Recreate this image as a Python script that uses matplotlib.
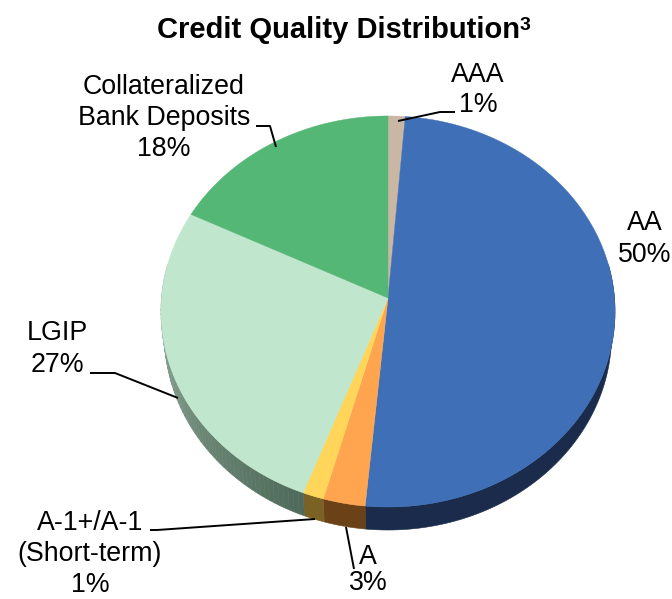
import numpy as np
import matplotlib
matplotlib.use("Agg")
import matplotlib.pyplot as plt

plt.rcParams["font.family"] = ["Liberation Sans", "DejaVu Sans"]

# slice order runs clockwise from 12 o'clock
categories = ["AAA", "AA", "A", "A-1+/A-1\n(Short-term)", "LGIP", "Collateralized\nBank Deposits"]
printed_pct = ["1%", "50%", "3%", "1%", "27%", "18%"]
# shares as drawn (the printed labels are rounded differently)
shares = [1.3, 50.2, 2.8, 1.4, 26.6, 17.7]
top_colors = ["#c9b6a3", "#3f6fb6", "#ffa550", "#ffd65a", "#c0e6cd", "#55b775"]
wall_dark = ["#6b5d50", "#1a2b4c", "#6b4218", "#7a6124", "#4e6a5a", "#2b5f3c"]
wall_light = ["#6b5d50", "#1a2b4c", "#6b4218", "#7a6124", "#9ab3a0", "#2b5f3c"]

# pie placement, pixels
cx, cy = 388, 298
rx, ry = 226.5, 194.6
persp = 0.069
depth = 23


def project(theta):
    # theta in radians clockwise from the top, tilted pie with a little perspective
    u = np.sin(theta)
    v = np.cos(theta)
    w = 1 + persp * v
    return cx + rx * u / w, cy - ry * v / w


def project_low(theta):
    x, y = project(theta)
    return cx + (x - cx) * 0.985, y + depth


fig = plt.figure(figsize=(6.72, 5.99), dpi=100)
ax = fig.add_axes([0, 0, 1, 1])
ax.set_xlim(0, 672)
ax.set_ylim(599, 0)
ax.axis("off")

edges = np.radians(np.cumsum([0] + shares) * 3.6)

# side wall first, the top face goes over it
for i in range(len(shares)):
    t0 = max(edges[i], np.radians(80))
    t1 = min(edges[i + 1], np.radians(280))
    if t1 <= t0:
        continue
    c0 = np.array(matplotlib.colors.to_rgb(wall_dark[i]))
    c1 = np.array(matplotlib.colors.to_rgb(wall_light[i]))
    # only the LGIP wall changes colour along the rim
    steps = 60 if wall_dark[i] != wall_light[i] else 1
    ts = np.linspace(t0, t1, steps + 1)
    for j in range(steps):
        a = np.linspace(ts[j], ts[j + 1], 80 // steps + 2)
        xt, yt = project(a)
        xb, yb = project_low(a[::-1])
        f = j / steps
        col = c0 + (c1 - c0) * f
        ax.fill(np.r_[xt, xb], np.r_[yt, yb], color=col, lw=0.4, ec=col, zorder=1)

# top face
for i in range(len(shares)):
    t = np.linspace(edges[i], edges[i + 1], 120)
    x, y = project(t)
    ax.fill(np.r_[cx, x], np.r_[cy, y], color=top_colors[i], lw=0.3, ec=top_colors[i], zorder=2)

# leader lines
leaders = [
    ([398, 440, 455], [121, 112, 112]),
    ([276, 270, 256], [147, 126, 126]),
    ([90, 115, 178], [373, 373, 398]),
    ([315, 157, 150], [519, 530, 530]),
    ([346, 354], [527, 569]),
]
for xs, ys in leaders:
    ax.plot(xs, ys, color="black", lw=1.4, zorder=3, solid_capstyle="butt")

fs = 19.3
label_xy = [(478, 90), (645, 239), (368, 570), (90, 554), (57, 349), (164, 118)]
# the A label sits at the bottom edge, so its lines are a bit tighter
spacing = [1.25, 1.25, 1.05, 1.25, 1.25, 1.25]
for cat, pct, (lx, ly), sp in zip(categories, printed_pct, label_xy, spacing):
    ax.text(lx, ly, cat + "\n" + pct, ha="center", va="center", fontsize=fs,
            color="black", linespacing=sp, zorder=4, clip_on=False)

ax.text(157, 30, "Credit Quality Distribution", ha="left", va="center", fontsize=21,
        fontweight="bold", color="black")
ax.text(520, 26, "3", ha="left", va="center", fontsize=14, fontweight="bold", color="black")

fig.savefig("out.png", dpi=100)
